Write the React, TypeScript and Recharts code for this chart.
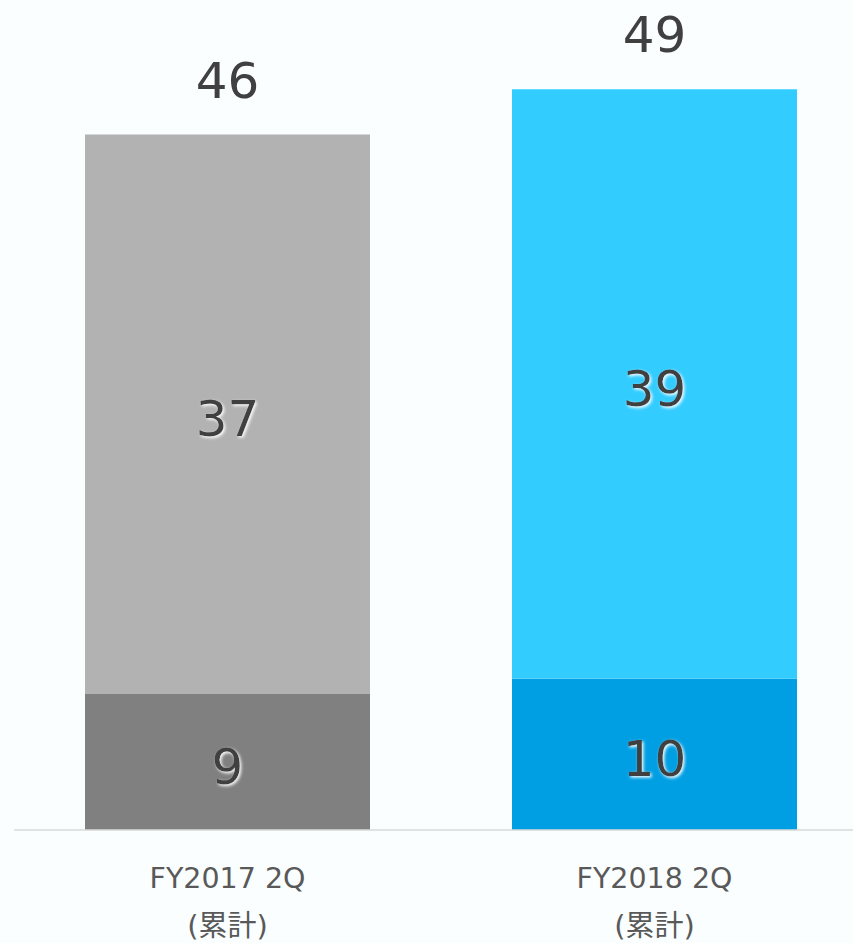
import React from 'react';
import { BarChart, Bar, XAxis, YAxis, Cell, LabelList } from 'recharts';

const categories = ['FY2017 2Q', 'FY2018 2Q'];
const subLabels = ['(累計)', '(累計)'];
const lowerValues = [9, 10];
const upperValues = [37, 39];
const totals = [46, 49];

const lowerColors = ['#808080', '#009FE3'];
const upperColors = ['#B2B2B2', '#33CCFF'];

const data = categories.map((name, i) => ({
  name,
  sub: subLabels[i],
  lower: lowerValues[i],
  upper: upperValues[i],
  total: totals[i],
}));

const FONT = '"DejaVu Sans", "Noto Sans CJK JP", sans-serif';

const InnerLabel = (props: any) => {
  const { x, y, width, height, value } = props;
  return (
    <text
      x={x + width / 2}
      y={y + height / 2 + 22}
      textAnchor="middle"
      fontFamily={FONT}
      fontSize={50}
      fill="#404040"
      filter="url(#glow)"
    >
      {value}
    </text>
  );
};

const TopLabel = (props: any) => {
  const { x, y, width, index } = props;
  return (
    <text
      x={x + width / 2}
      y={y - 37}
      textAnchor="middle"
      fontFamily={FONT}
      fontSize={50}
      fill="#404040"
    >
      {totals[index]}
    </text>
  );
};

const Tick = (props: any) => {
  const { x, y, payload, index } = props;
  return (
    <g>
      <text x={x} y={y + 58} textAnchor="middle" fontFamily={FONT} fontSize={28.5} fill="#595959">
        {payload.value}
      </text>
      <text x={x} y={y + 106} textAnchor="middle" fontFamily={FONT} fontSize={29} fill="#595959">
        {subLabels[index]}
      </text>
    </g>
  );
};

export default function App() {
  return (
    <div
      style={{
        position: 'fixed',
        left: 0,
        top: 0,
        width: 853,
        height: 943,
        overflow: 'hidden',
        background: '#FAFEFF',
      }}
    >
      <BarChart
        width={868}
        height={943}
        data={data}
        margin={{ top: 0, right: 0, bottom: 0, left: 14 }}
        barSize={285}
      >
        <defs>
          <filter id="glow" x="-20%" y="-20%" width="140%" height="140%">
            <feDropShadow dx="1.5" dy="1.5" stdDeviation="1.5" floodColor="#ffffff" floodOpacity="1" />
          </filter>
        </defs>
        <XAxis
          dataKey="name"
          height={113}
          tickLine={false}
          tickSize={0}
          tickMargin={0}
          axisLine={{ stroke: '#D9D9D9', strokeWidth: 1.5 }}
          tick={<Tick />}
          interval={0}
        />
        <YAxis hide domain={[0, 54.9]} />
        <Bar dataKey="lower" stackId="a" isAnimationActive={false}>
          {data.map((_, i) => (
            <Cell key={i} fill={lowerColors[i]} />
          ))}
          <LabelList dataKey="lower" content={<InnerLabel />} />
        </Bar>
        <Bar dataKey="upper" stackId="a" isAnimationActive={false}>
          {data.map((_, i) => (
            <Cell key={i} fill={upperColors[i]} />
          ))}
          <LabelList dataKey="upper" content={<InnerLabel />} />
          <LabelList dataKey="total" content={<TopLabel />} />
        </Bar>
      </BarChart>
    </div>
  );
}
